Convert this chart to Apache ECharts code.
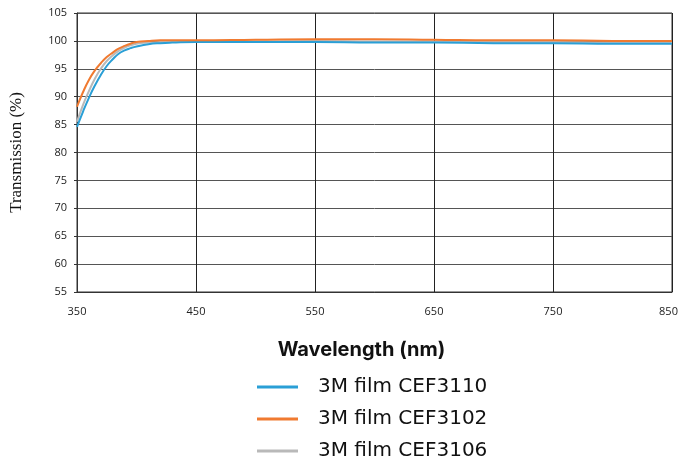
<!DOCTYPE html>
<html><head><meta charset="utf-8">
<script src="https://cdn.jsdelivr.net/npm/echarts@6/dist/echarts.min.js"></script>
<style>html,body{margin:0;padding:0;background:#fff}#c{width:679px;height:465px}</style>
</head><body><div id="c"></div>
<script>
const wavelengths = [350,355,360,365,370,375,380,385,390,395,400,410,420,430,450,500,550,600,650,700,750,800,850];
const cef3110 = [84.6,87.3,89.8,92.0,93.9,95.5,96.7,97.7,98.3,98.7,99.0,99.4,99.6,99.7,99.8,99.8,99.8,99.7,99.7,99.6,99.6,99.5,99.5];
const cef3102 = [88.2,90.8,93.0,94.7,96.0,97.1,97.9,98.6,99.1,99.5,99.8,100.0,100.1,100.1,100.1,100.2,100.3,100.3,100.2,100.1,100.1,100.0,100.0];
const cef3106 = [85.5,88.5,91.0,93.2,95.0,96.4,97.4,98.2,98.8,99.2,99.5,99.7,99.8,99.85,99.9,99.9,100.0,99.9,99.9,99.8,99.8,99.7,99.7];
const seriesNames = ['3M film CEF3110','3M film CEF3102','3M film CEF3106'];
const colors = ['#2a9fd6','#f07a30','#b9b9b9'];
const pair = a => wavelengths.map((w,i)=>[w,a[i]]);
const chart = echarts.init(document.getElementById('c'));
chart.setOption({
  animation:false,
  grid:{left:77,right:7,top:13,bottom:173,show:true,borderColor:'#333',borderWidth:1,containLabel:false,outerBoundsMode:'none'},
  legend:{orient:'vertical',left:257,top:377,height:100,itemWidth:41,itemHeight:3,itemGap:12,
    icon:'rect',padding:0,
    textStyle:{fontFamily:'DejaVu Sans',fontSize:20,color:'#111',padding:[0,0,0,15]},
    data:seriesNames},
  xAxis:{type:'value',min:350,max:850,interval:100,
    name:'Wavelength (nm)',nameLocation:'middle',nameGap:48,
    nameTextStyle:{fontFamily:'Inter',fontWeight:'bold',fontSize:20,color:'#111',padding:[0,26,0,0]},
    axisLine:{lineStyle:{color:'#333'}},axisTick:{show:false},
    axisLabel:{margin:14,fontFamily:'Open Sans',fontSize:11,color:'#222',
      formatter:v=>v===850?'{m|'+v+'}':String(v),
      rich:{m:{fontFamily:'Open Sans',fontSize:11,color:'#222',padding:[0,7,0,0]}}},
    splitLine:{show:true,lineStyle:{color:'#222',width:1}}},
  yAxis:{type:'value',min:55,max:105,interval:5,
    name:'Transmission (%)',nameLocation:'middle',nameGap:52,
    nameTextStyle:{fontFamily:'Liberation Serif',fontSize:17,color:'#111'},
    axisLine:{show:true,lineStyle:{color:'#333'}},axisTick:{show:true,length:3,lineStyle:{color:'#333'}},
    axisLabel:{margin:10,fontFamily:'Open Sans',fontSize:11,color:'#222'},
    splitLine:{show:true,lineStyle:{color:'#555',width:1}}},
  series:[
    {name:seriesNames[2],type:'line',smooth:true,showSymbol:false,data:pair(cef3106),color:colors[2],lineStyle:{width:2}},
    {name:seriesNames[0],type:'line',smooth:true,showSymbol:false,data:pair(cef3110),color:colors[0],lineStyle:{width:2}},
    {name:seriesNames[1],type:'line',smooth:true,showSymbol:false,data:pair(cef3102),color:colors[1],lineStyle:{width:2}}
  ]
});
</script></body></html>
